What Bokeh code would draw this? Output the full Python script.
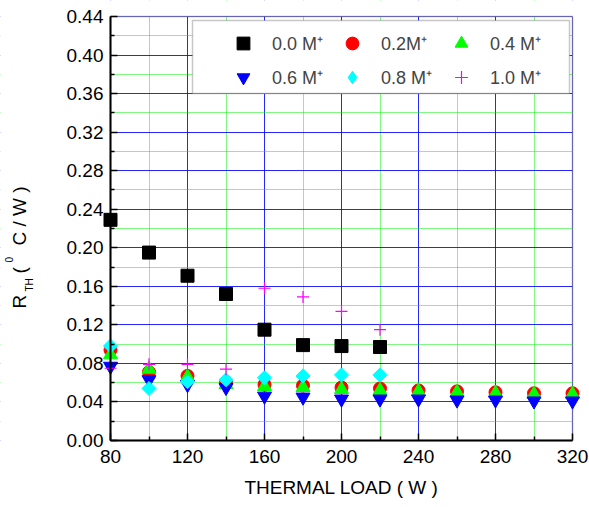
import math
from bokeh.plotting import figure
from bokeh.models import (Range1d, FixedTicker, Legend, LegendItem, Label,
                          BoxAnnotation)
from bokeh.embed import file_html
from bokeh.resources import INLINE

# ---------------- data ----------------
loads = [80, 100, 120, 140, 160, 180, 200, 220, 240, 260, 280, 300, 320]
r_00 = [0.229, 0.195, 0.171, 0.152, 0.115, 0.099, 0.098, 0.097]
r_02 = [0.094, 0.071, 0.067, 0.060, 0.058, 0.057, 0.055, 0.054, 0.052, 0.051, 0.050, 0.049, 0.049]
r_04 = [0.089, 0.074, 0.066, 0.058, 0.056, 0.055, 0.053, 0.052, 0.051, 0.050, 0.049, 0.048, 0.048]
r_06 = [0.077, 0.063, 0.058, 0.055, 0.046, 0.045, 0.043, 0.043, 0.043, 0.042, 0.042, 0.041, 0.041]
r_08 = [0.098, 0.054, 0.061, 0.063, 0.065, 0.067, 0.068, 0.068]
r_10 = [0.075, 0.079, 0.079, 0.074, 0.158, 0.149, 0.134, 0.115]

series_labels = ["0.0 M\u207a", "0.2M\u207a", "0.4 M\u207a", "0.6 M\u207a", "0.8 M\u207a", "1.0 M\u207a"]

x_major = [80, 120, 160, 200, 240, 280, 320]
x_minor = [100, 140, 180, 220, 260, 300]
y_major = [0.00, 0.04, 0.08, 0.12, 0.16, 0.20, 0.24, 0.28, 0.32, 0.36, 0.40, 0.44]
y_minor = [0.02, 0.06, 0.10, 0.14, 0.18, 0.22, 0.26, 0.30, 0.34, 0.38, 0.42]
y_tick_labels = ["0.00", "0.04", "0.08", "0.12", "0.16", "0.20", "0.24", "0.28",
                 "0.32", "0.36", "0.40", "0.44"]

x_label = "THERMAL LOAD ( W )"

# ---------------- layout ----------------
W, H = 589, 507
FL, FR, FT, FB = 110, 572, 16, 440   # axes box edges in pixels
XMIN, XMAX, YMIN, YMAX = 80, 320, 0.0, 0.44
FONT = "Liberation Sans"


def px2x(px):
    return XMIN + (px - FL) * (XMAX - XMIN) / (FR - FL)


def py2y(py):
    return YMIN + (FB - py) * (YMAX - YMIN) / (FB - FT)


# the frame covers the whole canvas; axes are pinned at the data box edges
p = figure(width=W, height=H, output_backend="svg", toolbar_location=None,
           x_range=Range1d(px2x(0), px2x(W)), y_range=Range1d(py2y(H), py2y(0)),
           min_border_left=0, min_border_right=0, min_border_top=0, min_border_bottom=0)
p.background_fill_color = "white"
p.border_fill_color = "white"
p.outline_line_color = None

# axes
p.xaxis.ticker = FixedTicker(ticks=x_major, minor_ticks=x_minor)
p.yaxis.ticker = FixedTicker(ticks=y_major, minor_ticks=y_minor)
p.yaxis.major_label_overrides = {v: s for v, s in zip(y_major, y_tick_labels)}
p.xaxis.major_label_overrides = {v: str(v) for v in x_major}
p.xaxis.bounds = (XMIN, XMAX)
p.yaxis.bounds = (YMIN, YMAX)
p.xaxis.fixed_location = YMIN
p.yaxis.fixed_location = XMIN
for ax in (p.xaxis, p.yaxis):
    ax.axis_line_color = "black"
    ax.axis_line_width = 2
    ax.major_tick_in = 7
    ax.major_tick_out = 0
    ax.minor_tick_in = 4
    ax.minor_tick_out = 0
    ax.major_tick_line_color = "black"
    ax.major_tick_line_width = 1.5
    ax.minor_tick_line_color = "black"
    ax.minor_tick_line_width = 1.5
    ax.major_label_text_font = FONT
    ax.major_label_text_font_size = "19px"
    ax.major_label_text_color = "black"
    ax.major_label_standoff = 7
p.xaxis.major_label_standoff = 9
p.xaxis.axis_label = x_label
p.xaxis.axis_label_text_font = FONT
p.xaxis.axis_label_text_font_size = "19px"
p.xaxis.axis_label_text_font_style = "normal"
p.xaxis.axis_label_text_color = "black"
p.xaxis.axis_label_standoff = 11

# grids
for g in (p.xgrid, p.ygrid):
    g.grid_line_color = "#0000ff"
    g.grid_line_width = 1
    g.grid_line_alpha = 0.85
    g.minor_grid_line_color = "#00ee00"
    g.minor_grid_line_width = 1
    g.minor_grid_line_dash = "1 1"

# white covers outside the data box (hide grid there) and the box outline
for kw in (dict(right=XMIN), dict(left=XMAX), dict(bottom=YMAX), dict(top=YMIN)):
    p.add_layout(BoxAnnotation(fill_color="white", fill_alpha=1.0, line_alpha=0,
                               level="underlay", **kw))
p.add_layout(BoxAnnotation(left=XMIN, right=XMAX, bottom=YMIN, top=YMAX,
                           fill_alpha=0, line_color="black", line_width=1.5,
                           level="underlay"))

# ---------------- series ----------------
r0 = p.scatter(loads[:len(r_00)], r_00, marker="square", size=13,
               fill_color="black", line_color="black")
r1 = p.scatter(loads[:len(r_02)], r_02, marker="circle", size=13,
               fill_color="red", line_color="red")
r2 = p.scatter(loads[:len(r_04)], r_04, marker="triangle", size=14,
               fill_color="#00ff00", line_color="#00ff00")
r3 = p.scatter(loads[:len(r_06)], r_06, marker="inverted_triangle", size=14,
               fill_color="blue", line_color="blue")
r4 = p.scatter(loads[:len(r_08)], r_08, marker="square", angle=math.pi / 4, size=10,
               fill_color="cyan", line_color="cyan")
r5 = p.scatter(loads[:len(r_10)], r_10, marker="cross", size=12,
               fill_color=None, line_color="magenta", line_width=1.2)
# legend-only twin of the 0.8 M series (diamond symbol in the key)
r4_key = p.scatter(loads[:len(r_08)], r_08, marker="diamond", size=10,
                   fill_color="cyan", line_color="cyan", visible=False)
renderers = [r0, r1, r2, r3, r4_key, r5]

# legend frame
p.add_layout(BoxAnnotation(left=px2x(192), right=px2x(569), top=py2y(20), bottom=py2y(93),
                           fill_color="white", fill_alpha=1.0,
                           line_color="#444444", line_width=1.5))

legend = Legend(items=[LegendItem(label=l, renderers=[r]) for l, r in zip(series_labels, renderers)],
                orientation="horizontal", ncols=3,
                location=(222, H - 98),
                glyph_width=32, glyph_height=32, label_standoff=13,
                label_width=62, label_height=20, spacing=2, padding=5, margin=0,
                label_text_font=FONT, label_text_font_size="18px",
                background_fill_alpha=0, border_line_alpha=0)
p.add_layout(legend)

# y-axis label built from pieces: R_TH (^0 C / W)
yl = [
    ("R", 19, 308, "19px"),
    ("TH", 29, 291, "10px"),
    ("(", 19, 273, "19px"),
    ("0", 8, 262, "10px"),
    ("C / W )", 19, 245, "19px"),
]
for txt, bx, by, fs in yl:
    p.add_layout(Label(x=px2x(bx), y=py2y(by), text=txt, angle=math.pi / 2,
                       text_align="left", text_baseline="alphabetic",
                       text_font=FONT, text_font_size=fs, text_color="black"))

open("out.html", "w").write(file_html(p, INLINE))
